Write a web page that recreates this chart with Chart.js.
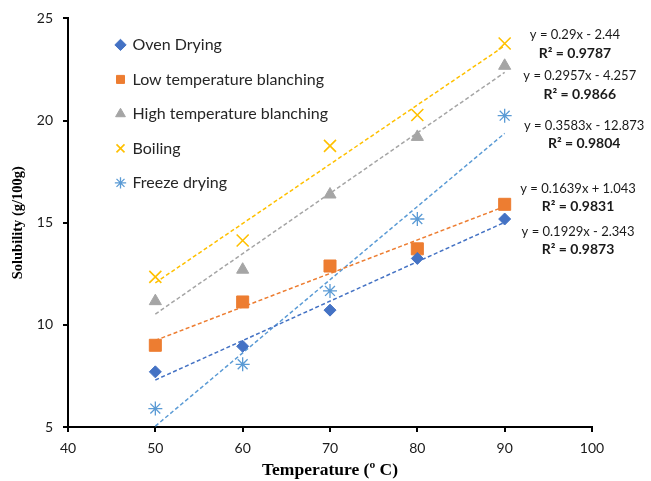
<!DOCTYPE html>
<html>
<head>
<meta charset="utf-8">
<script src="https://cdn.jsdelivr.net/npm/chart.js@4/dist/chart.umd.min.js"></script>
<style>
  html, body { margin: 0; padding: 0; background: #fff; }
  #wrap { width: 651px; height: 481px; }
</style>
</head>
<body>
<div id="wrap"><canvas id="myChart"></canvas></div>
<script>
// temperatures (x)
const temps = [50, 60, 70, 80, 90];

const seriesNames = ["Oven Drying", "Low temperature blanching", "High temperature blanching", "Boiling", "Freeze drying"];
const ovenDrying = [7.7, 8.95, 10.72, 13.25, 15.18];
const lowBlanching = [9.0, 11.12, 12.88, 13.72, 15.9];
const highBlanching = [11.16, 12.7, 16.38, 19.2, 22.68];
const boiling = [12.35, 14.13, 18.76, 20.27, 23.77];
const freezeDrying = [5.9, 8.07, 11.66, 15.18, 20.24];

// linear trendlines as printed on the chart
const slopes = [0.1929, 0.1639, 0.2957, 0.29, 0.3583];
const intercepts = [-2.343, 1.043, -4.257, -2.44, -12.873];
const equations = ["y = 0.1929x - 2.343", "y = 0.1639x + 1.043", "y = 0.2957x - 4.257", "y = 0.29x - 2.44", "y = 0.3583x - 12.873"];
const rSquared = ["R² = 0.9873", "R² = 0.9831", "R² = 0.9866", "R² = 0.9787", "R² = 0.9804"];

const xTicks = [40, 50, 60, 70, 80, 90, 100];
const yTicks = [5, 10, 15, 20, 25];

const colors = ["#4472C4", "#ED7D31", "#A5A5A5", "#FFC000", "#5B9BD5"];
const markers = ["rectRot", "rect", "triangle", "crossRot", "star"];
const markerSizes = [6, 8.5, 7, 8.5, 7];
const markerBorders = [1, 1, 1, 1.6, 1.3];

// where the equation text sits, in axis units (x centre, y of equation line, y of R² line)
const eqLabelX = [98.4, 98.4, 98.6, 98.05, 99.1];
const eqLabelY = [14.56, 16.66, 22.17, 24.22, 19.73];
const r2LabelY = [13.68, 15.78, 21.29, 23.29, 18.9];

const allValues = [ovenDrying, lowBlanching, highBlanching, boiling, freezeDrying];

const datasets = [];
allValues.forEach((vals, i) => {
  datasets.push({
    label: seriesNames[i],
    data: temps.map((t, j) => ({ x: t, y: vals[j] })),
    backgroundColor: colors[i],
    borderColor: colors[i],
    pointStyle: markers[i],
    pointRadius: markerSizes[i],
    pointHoverRadius: markerSizes[i],
    pointBorderWidth: markerBorders[i],
    showLine: false
  });
});
allValues.forEach((vals, i) => {
  const x0 = temps[0];
  const x1 = temps[temps.length - 1];
  datasets.push({
    label: "trend " + i,
    type: "line",
    data: [
      { x: x0, y: slopes[i] * x0 + intercepts[i] },
      { x: x1, y: slopes[i] * x1 + intercepts[i] }
    ],
    borderColor: colors[i],
    borderWidth: 1.5,
    borderDash: [4, 2.5],
    pointRadius: 0,
    fill: false
  });
});

const eqPlugin = {
  id: "eqLabels",
  afterLayout(chart) {
    // legend sits inside the plot, a little in from the y axis
    if (chart.legend) {
      chart.legend.left = chart.chartArea.left + 30;
      chart.legend.top = chart.chartArea.top;
    }
  },
  afterDatasetsDraw(chart) {
    const c = chart.ctx;
    const xs = chart.scales.x;
    const ys = chart.scales.y;
    c.save();
    c.textAlign = "center";
    c.textBaseline = "middle";
    c.fillStyle = "#1a1a1a";
    for (let i = 0; i < equations.length; i++) {
      const px = xs.getPixelForValue(eqLabelX[i]);
      c.font = "13px Lato";
      c.fillText(equations[i], px, ys.getPixelForValue(eqLabelY[i]));
      c.font = "bold 14px Lato";
      c.fillText(rSquared[i], px, ys.getPixelForValue(r2LabelY[i]));
    }
    c.restore();
  }
};

const ctx = document.getElementById("myChart").getContext("2d");
const myChart = new Chart(ctx, {
  type: "scatter",
  data: { datasets: datasets },
  options: {
    responsive: true,
    maintainAspectRatio: false,
    animation: false,
    layout: { padding: { top: 17, right: 59, left: 0, bottom: 0 } },
    plugins: {
      tooltip: { enabled: false },
      legend: {
        position: "chartArea",
        align: "start",
        labels: {
          usePointStyle: true,
          boxWidth: 8,
          boxHeight: 8,
          padding: 18.5,
          color: "#262626",
          font: { family: "Lato", size: 16 },
          filter: (item) => item.datasetIndex < 5
        }
      }
    },
    scales: {
      x: {
        type: "linear",
        min: 40,
        max: 100,
        afterBuildTicks: (scale) => { scale.ticks = xTicks.map(v => ({ value: v })); },
        afterFit: (scale) => { scale.height = 54; },
        ticks: { color: "#1a1a1a", padding: 8, font: { family: "Lato", size: 14 } },
        grid: { drawOnChartArea: false, drawTicks: true, tickLength: 5, color: "#000", lineWidth: 2 },
        border: { color: "#000", width: 2 },
        title: {
          display: true,
          text: "Temperature (º C)",
          color: "#000",
          padding: { top: 0, bottom: 0.5 },
          font: { family: "Liberation Serif", size: 17.5, weight: "bold" }
        }
      },
      y: {
        type: "linear",
        min: 5,
        max: 25,
        afterBuildTicks: (scale) => { scale.ticks = yTicks.map(v => ({ value: v })); },
        afterFit: (scale) => { scale.width = 68; },
        ticks: { color: "#1a1a1a", padding: 10, font: { family: "Lato", size: 14 } },
        grid: { drawOnChartArea: false, drawTicks: true, tickLength: 5, color: "#000", lineWidth: 2 },
        border: { color: "#000", width: 2 },
        title: {
          display: true,
          text: "Solubility (g/100g)",
          color: "#000",
          padding: { top: 10, bottom: 0 },
          font: { family: "Liberation Serif", size: 14.5, weight: "bold" }
        }
      }
    }
  },
  plugins: [eqPlugin]
});
</script>
</body>
</html>
